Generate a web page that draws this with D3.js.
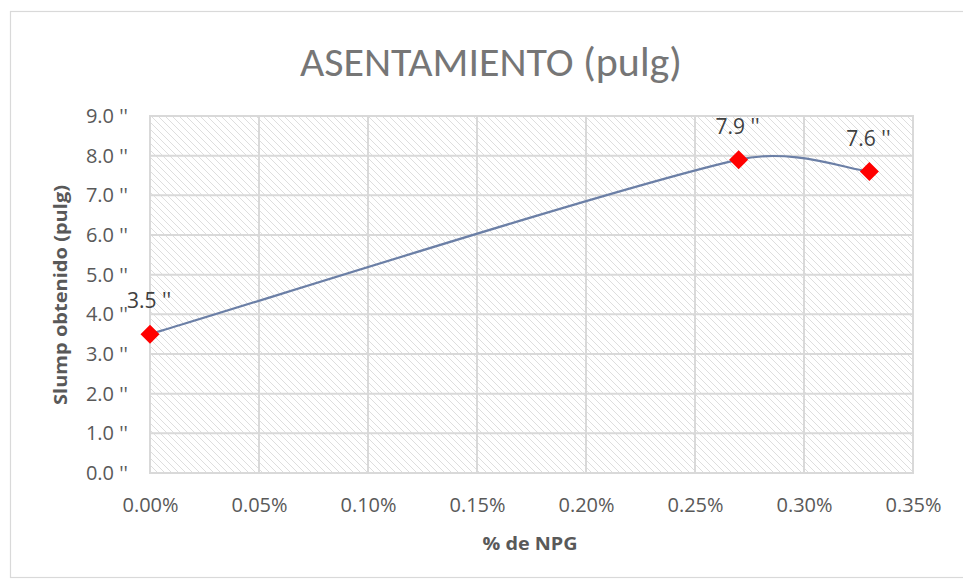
<!DOCTYPE html>
<html>
<head>
<meta charset="utf-8">
<script src="https://cdn.jsdelivr.net/npm/d3@7"></script>
<style>
  html, body { margin: 0; padding: 0; background: #fff; }
  svg { display: block; font-family: "Open Sans", "Liberation Sans", sans-serif; }
</style>
</head>
<body>
<svg id="chart" width="963" height="579"></svg>
<script>
// NPG dosage (values in %) and measured slump (inches)
const dosage = [0.0, 0.27, 0.33];
const slump = [3.5, 7.9, 7.6];
const xTicks = [0, 0.05, 0.10, 0.15, 0.20, 0.25, 0.30, 0.35];
const yTicks = [0, 1, 2, 3, 4, 5, 6, 7, 8, 9];

const svg = d3.select("#chart");
const W = 963, H = 579;
const plot = { left: 150, right: 913, top: 116, bottom: 473 };

// Outer chart frame (runs past the right edge)
svg.append("rect")
  .attr("x", 10.5).attr("y", 11.5)
  .attr("width", W).attr("height", 566)
  .attr("fill", "#fff").attr("stroke", "#d9d9d9").attr("stroke-width", 1.2);

// Diagonal hatch fill for the plot area
const defs = svg.append("defs");
const P = 7;
const pat = defs.append("pattern")
  .attr("id", "hatch").attr("patternUnits", "userSpaceOnUse")
  .attr("width", P).attr("height", P);
pat.append("rect").attr("width", P).attr("height", P).attr("fill", "#fff");
pat.append("path")
  .attr("d", `M-1,-1 L${P + 1},${P + 1} M-1,${P - 1} L1,${P + 1} M${P - 1},-1 L${P + 1},1`)
  .attr("stroke", "#dedede").attr("stroke-width", 1);

const x = d3.scaleLinear().domain([0, 0.35]).range([plot.left, plot.right]);
const y = d3.scaleLinear().domain([0, 9]).range([plot.bottom, plot.top]);

svg.append("rect")
  .attr("x", plot.left).attr("y", plot.top)
  .attr("width", plot.right - plot.left).attr("height", plot.bottom - plot.top)
  .attr("fill", "url(#hatch)");

// Gridlines
const grid = svg.append("g").attr("stroke", "#d9d9d9").attr("stroke-width", 2);
grid.selectAll("line.h").data(yTicks).join("line")
  .attr("x1", plot.left - 1).attr("x2", plot.right + 1)
  .attr("y1", d => y(d)).attr("y2", d => y(d));
grid.selectAll("line.v").data(xTicks).join("line")
  .attr("y1", plot.top).attr("y2", plot.bottom)
  .attr("x1", d => x(d)).attr("x2", d => x(d));

// Axes (labels only, no domain lines or tick marks)
const yAxis = d3.axisLeft(y).tickValues(yTicks).tickSize(0).tickPadding(0)
  .tickFormat(d => d3.format(".1f")(d) + " ''");
const gy = svg.append("g").attr("transform", `translate(${plot.left - 22},0)`).call(yAxis);
gy.select(".domain").remove();
gy.selectAll("text").attr("font-size", 20).attr("fill", "#595959")
  .attr("font-family", "'Open Sans', sans-serif");

const xAxis = d3.axisBottom(x).tickValues(xTicks).tickSize(0).tickPadding(24)
  .tickFormat(d => d3.format(".2f")(d) + "%");
const gx = svg.append("g").attr("transform", `translate(0,${plot.bottom})`).call(xAxis);
gx.select(".domain").remove();
gx.selectAll("text").attr("font-size", 20).attr("fill", "#595959")
  .attr("dy", 0).attr("font-family", "'Open Sans', sans-serif")
  .attr("y", 39);

// Smoothed data line: cubic Bezier segments with tangents (P[i+1]-P[i-1])/6,
// each handle limited to a fraction of its own segment length
const pts = dosage.map((d, i) => [x(d), y(slump[i])]);
function smoothPath(p) {
  const n = p.length;
  const tangent = i => {
    const a = p[Math.max(i - 1, 0)], b = p[Math.min(i + 1, n - 1)];
    return [(b[0] - a[0]) / 6, (b[1] - a[1]) / 6];
  };
  const limit = (t, segLen) => {
    const len = Math.hypot(t[0], t[1]);
    const max = 0.42 * segLen;
    return len > max ? [t[0] * max / len, t[1] * max / len] : t;
  };
  const path = d3.path();
  path.moveTo(p[0][0], p[0][1]);
  for (let i = 0; i < n - 1; i++) {
    const segLen = Math.hypot(p[i + 1][0] - p[i][0], p[i + 1][1] - p[i][1]);
    const t0 = limit(tangent(i), segLen);
    const t1 = limit(tangent(i + 1), segLen);
    path.bezierCurveTo(
      p[i][0] + t0[0], p[i][1] + t0[1],
      p[i + 1][0] - t1[0], p[i + 1][1] - t1[1],
      p[i + 1][0], p[i + 1][1]);
  }
  return path.toString();
}
svg.append("path")
  .attr("d", smoothPath(pts))
  .attr("fill", "none").attr("stroke", "#6b7fa6").attr("stroke-width", 2.2);

// Diamond markers
svg.selectAll("path.mk").data(pts).join("path")
  .attr("class", "mk")
  .attr("d", "M0,-9.5 L9.5,0 L0,9.5 L-9.5,0 Z")
  .attr("transform", d => `translate(${d[0]},${d[1]})`)
  .attr("fill", "#ff0000");

// Data labels
svg.selectAll("text.lbl").data(dosage).join("text")
  .attr("class", "lbl")
  .attr("x", d => x(d) - 1)
  .attr("y", (d, i) => y(slump[i]) - 26)
  .attr("text-anchor", "middle")
  .attr("font-size", 21).attr("fill", "#404040")
  .text((d, i) => d3.format(".1f")(slump[i]) + " ''");

// Title
svg.append("text")
  .attr("x", 491).attr("y", 76).attr("text-anchor", "middle")
  .attr("font-family", "Carlito, 'Liberation Sans Narrow', sans-serif")
  .attr("font-size", 42).attr("fill", "#767676")
  .attr("textLength", 382).attr("lengthAdjust", "spacingAndGlyphs")
  .text("ASENTAMIENTO (pulg)");

// Axis titles
svg.append("text")
  .attr("x", 530).attr("y", 550).attr("text-anchor", "middle")
  .attr("font-size", 18).attr("font-weight", "bold").attr("fill", "#595959")
  .attr("textLength", 95).attr("lengthAdjust", "spacingAndGlyphs")
  .text("% de NPG");

svg.append("text")
  .attr("transform", "translate(67,295) rotate(-90)")
  .attr("text-anchor", "middle")
  .attr("font-size", 18).attr("font-weight", "bold").attr("fill", "#595959")
  .attr("textLength", 220).attr("lengthAdjust", "spacingAndGlyphs")
  .text("Slump obtenido (pulg)");
</script>
</body>
</html>
